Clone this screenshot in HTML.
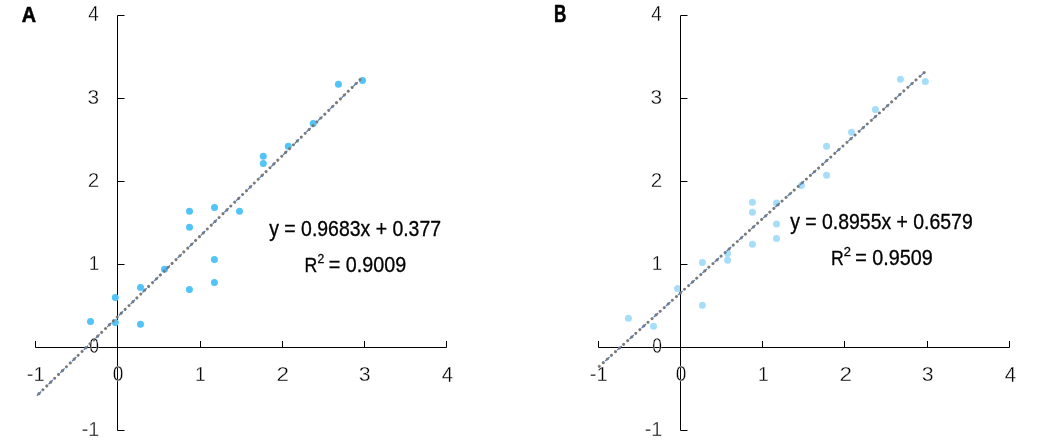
<!DOCTYPE html>
<html><head><meta charset="utf-8"><style>
html,body{margin:0;padding:0;background:#fff;}
svg{display:block;will-change:transform;}
text{font-family:"Liberation Sans",sans-serif;fill:#000;stroke:#fff;stroke-width:0.35px;}
</style></head><body>
<svg width="1052" height="442" viewBox="0 0 1052 442">
<rect width="1052" height="442" fill="#fff"/>
<path d="M117.5 15.5V430.5 M117.5 15.5H124.5 M117.5 98.5H124.5 M117.5 181.5H124.5 M117.5 264.5H124.5 M117.5 347.5H124.5 M117.5 430.5H124.5 M35.5 347.5H446.5 M35.5 341V347.5 M117.5 341V347.5 M200.5 341V347.5 M282.5 341V347.5 M364.5 341V347.5 M446.5 341V347.5" stroke="#000" stroke-width="1" fill="none"/>
<circle cx="90.5" cy="321.4" r="3.5" fill="#52c4f7"/>
<circle cx="115.3" cy="297.4" r="3.5" fill="#52c4f7"/>
<circle cx="115.3" cy="322.5" r="3.5" fill="#52c4f7"/>
<circle cx="140.5" cy="287.5" r="3.5" fill="#52c4f7"/>
<circle cx="140.5" cy="324.2" r="3.5" fill="#52c4f7"/>
<circle cx="164.5" cy="269.2" r="3.5" fill="#52c4f7"/>
<circle cx="189.5" cy="211.3" r="3.5" fill="#52c4f7"/>
<circle cx="189.5" cy="227.3" r="3.5" fill="#52c4f7"/>
<circle cx="189.4" cy="289.4" r="3.5" fill="#52c4f7"/>
<circle cx="214.5" cy="207.4" r="3.5" fill="#52c4f7"/>
<circle cx="214.4" cy="259.4" r="3.5" fill="#52c4f7"/>
<circle cx="214.4" cy="282.5" r="3.5" fill="#52c4f7"/>
<circle cx="239.5" cy="211.3" r="3.5" fill="#52c4f7"/>
<circle cx="263.3" cy="156.2" r="3.5" fill="#52c4f7"/>
<circle cx="263.3" cy="163.4" r="3.5" fill="#52c4f7"/>
<circle cx="288.3" cy="146.3" r="3.5" fill="#52c4f7"/>
<circle cx="313.2" cy="123.4" r="3.5" fill="#52c4f7"/>
<circle cx="338.4" cy="84.3" r="3.5" fill="#52c4f7"/>
<circle cx="362.5" cy="80.4" r="3.5" fill="#52c4f7"/>
<path d="M35.30 397.18L361.31 78.43" stroke="#4a7fd0" stroke-width="1.3" stroke-dasharray="6 10.395" stroke-dashoffset="-2.165" fill="none"/>
<path d="M35.30 397.18L361.31 78.43" stroke="#7a7a7a" stroke-width="3" stroke-linecap="round" stroke-dasharray="0.01 5.465" stroke-dashoffset="0.3" fill="none"/>
<circle cx="628.4" cy="318.3" r="3.5" fill="#a6def9"/>
<circle cx="653.5" cy="326.2" r="3.5" fill="#a6def9"/>
<circle cx="677.6" cy="288.6" r="3.5" fill="#a6def9"/>
<circle cx="702.4" cy="262.4" r="3.5" fill="#a6def9"/>
<circle cx="702.4" cy="305.3" r="3.5" fill="#a6def9"/>
<circle cx="727.6" cy="253.4" r="3.5" fill="#a6def9"/>
<circle cx="727.6" cy="260.3" r="3.5" fill="#a6def9"/>
<circle cx="752.4" cy="202.3" r="3.5" fill="#a6def9"/>
<circle cx="752.4" cy="212.3" r="3.5" fill="#a6def9"/>
<circle cx="752.4" cy="244.3" r="3.5" fill="#a6def9"/>
<circle cx="776.5" cy="203.0" r="3.5" fill="#a6def9"/>
<circle cx="776.5" cy="224.1" r="3.5" fill="#a6def9"/>
<circle cx="776.5" cy="238.4" r="3.5" fill="#a6def9"/>
<circle cx="801.4" cy="185.5" r="3.5" fill="#a6def9"/>
<circle cx="826.6" cy="146.2" r="3.5" fill="#a6def9"/>
<circle cx="826.6" cy="175.2" r="3.5" fill="#a6def9"/>
<circle cx="851.5" cy="132.3" r="3.5" fill="#a6def9"/>
<circle cx="875.4" cy="109.4" r="3.5" fill="#a6def9"/>
<circle cx="900.4" cy="79.3" r="3.5" fill="#a6def9"/>
<circle cx="925.3" cy="81.4" r="3.5" fill="#a6def9"/>
<path d="M680.5 15.5V430.5 M680.5 15.5H687.5 M680.5 98.5H687.5 M680.5 181.5H687.5 M680.5 264.5H687.5 M680.5 347.5H687.5 M680.5 430.5H687.5 M598.5 347.5H1009.5 M598.5 341V347.5 M680.5 341V347.5 M762.5 341V347.5 M844.5 341V347.5 M927.5 341V347.5 M1009.5 341V347.5" stroke="#000" stroke-width="1" fill="none"/>
<path d="M598.30 367.22L924.22 72.52" stroke="#4a7fd0" stroke-width="1.3" stroke-dasharray="6 10.395" stroke-dashoffset="-9.23" fill="none"/>
<path d="M598.30 367.22L924.22 72.52" stroke="#7a7a7a" stroke-width="3" stroke-linecap="round" stroke-dasharray="0.01 5.465" stroke-dashoffset="-1.3" fill="none"/>
<text transform="matrix(0.9326 0 0 1.0515 88.27 21.48)" font-size="20.3">4</text>
<text transform="matrix(1.0283 0 0 1.0343 87.51 104.17)" font-size="20.3">3</text>
<text transform="matrix(1.0158 0 0 1.0316 87.84 187.14)" font-size="20.3">2</text>
<text transform="matrix(0.9270 0 0 1.0312 88.76 270.14)" font-size="20.3">1</text>
<text transform="matrix(0.8569 0 0 1.0456 89.18 353.26)" font-size="20.3">0</text>
<text transform="matrix(0.9748 0 0 1.0264 81.66 436.13)" font-size="20.3">-1</text>
<text transform="matrix(1.0007 0 0 1.0338 26.72 381.24)" font-size="20.3">-1</text>
<text transform="matrix(0.9437 0 0 1.0531 112.80 381.36)" font-size="20.3">0</text>
<text transform="matrix(0.9528 0 0 1.0386 194.91 381.24)" font-size="20.3">1</text>
<text transform="matrix(1.1103 0 0 1.0390 276.50 381.24)" font-size="20.3">2</text>
<text transform="matrix(1.0517 0 0 1.0417 358.67 381.27)" font-size="20.3">3</text>
<text transform="matrix(1.0060 0 0 1.0591 441.72 381.58)" font-size="20.3">4</text>
<text transform="matrix(0.9326 0 0 1.0515 651.27 21.48)" font-size="20.3">4</text>
<text transform="matrix(1.0283 0 0 1.0343 650.51 104.17)" font-size="20.3">3</text>
<text transform="matrix(1.0158 0 0 1.0316 650.84 187.14)" font-size="20.3">2</text>
<text transform="matrix(0.9270 0 0 1.0312 651.76 270.14)" font-size="20.3">1</text>
<text transform="matrix(0.8569 0 0 1.0456 652.18 353.26)" font-size="20.3">0</text>
<text transform="matrix(0.9748 0 0 1.0264 644.66 436.13)" font-size="20.3">-1</text>
<text transform="matrix(1.0007 0 0 1.0338 589.72 381.24)" font-size="20.3">-1</text>
<text transform="matrix(0.9437 0 0 1.0531 675.80 381.36)" font-size="20.3">0</text>
<text transform="matrix(0.9528 0 0 1.0386 757.91 381.24)" font-size="20.3">1</text>
<text transform="matrix(1.1103 0 0 1.0390 839.50 381.24)" font-size="20.3">2</text>
<text transform="matrix(1.0517 0 0 1.0417 921.67 381.27)" font-size="20.3">3</text>
<text transform="matrix(1.0060 0 0 1.0591 1004.72 381.58)" font-size="20.3">4</text>
<text transform="matrix(0.9238 0 0 1.0629 21.86 21.52)" font-size="21.5" font-weight="bold" style="stroke:#000;stroke-width:0.5px">A</text>
<text transform="matrix(0.7961 0 0 1.0694 553.91 21.52)" font-size="21.5" font-weight="bold" style="stroke:#000;stroke-width:0.5px">B</text>
<text transform="matrix(0.9578 0 0 1.0500 269.23 235.60)" font-size="20.3" style="stroke:#000;stroke-width:0.3px">y = 0.9683x + 0.377</text>
<text transform="matrix(0.9575 0 0 1.0643 790.23 228.70)" font-size="20.3" style="stroke:#000;stroke-width:0.3px">y = 0.8955x + 0.6579</text>
<text transform="matrix(0.8705 0 0 1.0394 304.39 271.53)" font-size="20.3" style="stroke:#000;stroke-width:0.3px">R</text>
<text transform="matrix(0.9727 0 0 0.9590 317.44 262.74)" font-size="12.5" style="stroke:#000;stroke-width:0.3px">2</text>
<text transform="matrix(0.9737 0 0 1.0571 328.73 271.70)" font-size="20.3" style="stroke:#000;stroke-width:0.3px">= 0.9009</text>
<text transform="matrix(0.8705 0 0 1.0394 830.89 264.53)" font-size="20.3" style="stroke:#000;stroke-width:0.3px">R</text>
<text transform="matrix(1.0365 0 0 0.9590 843.72 255.84)" font-size="12.5" style="stroke:#000;stroke-width:0.3px">2</text>
<text transform="matrix(0.9737 0 0 1.0643 855.23 264.70)" font-size="20.3" style="stroke:#000;stroke-width:0.3px">= 0.9509</text>
</svg>
</body></html>
